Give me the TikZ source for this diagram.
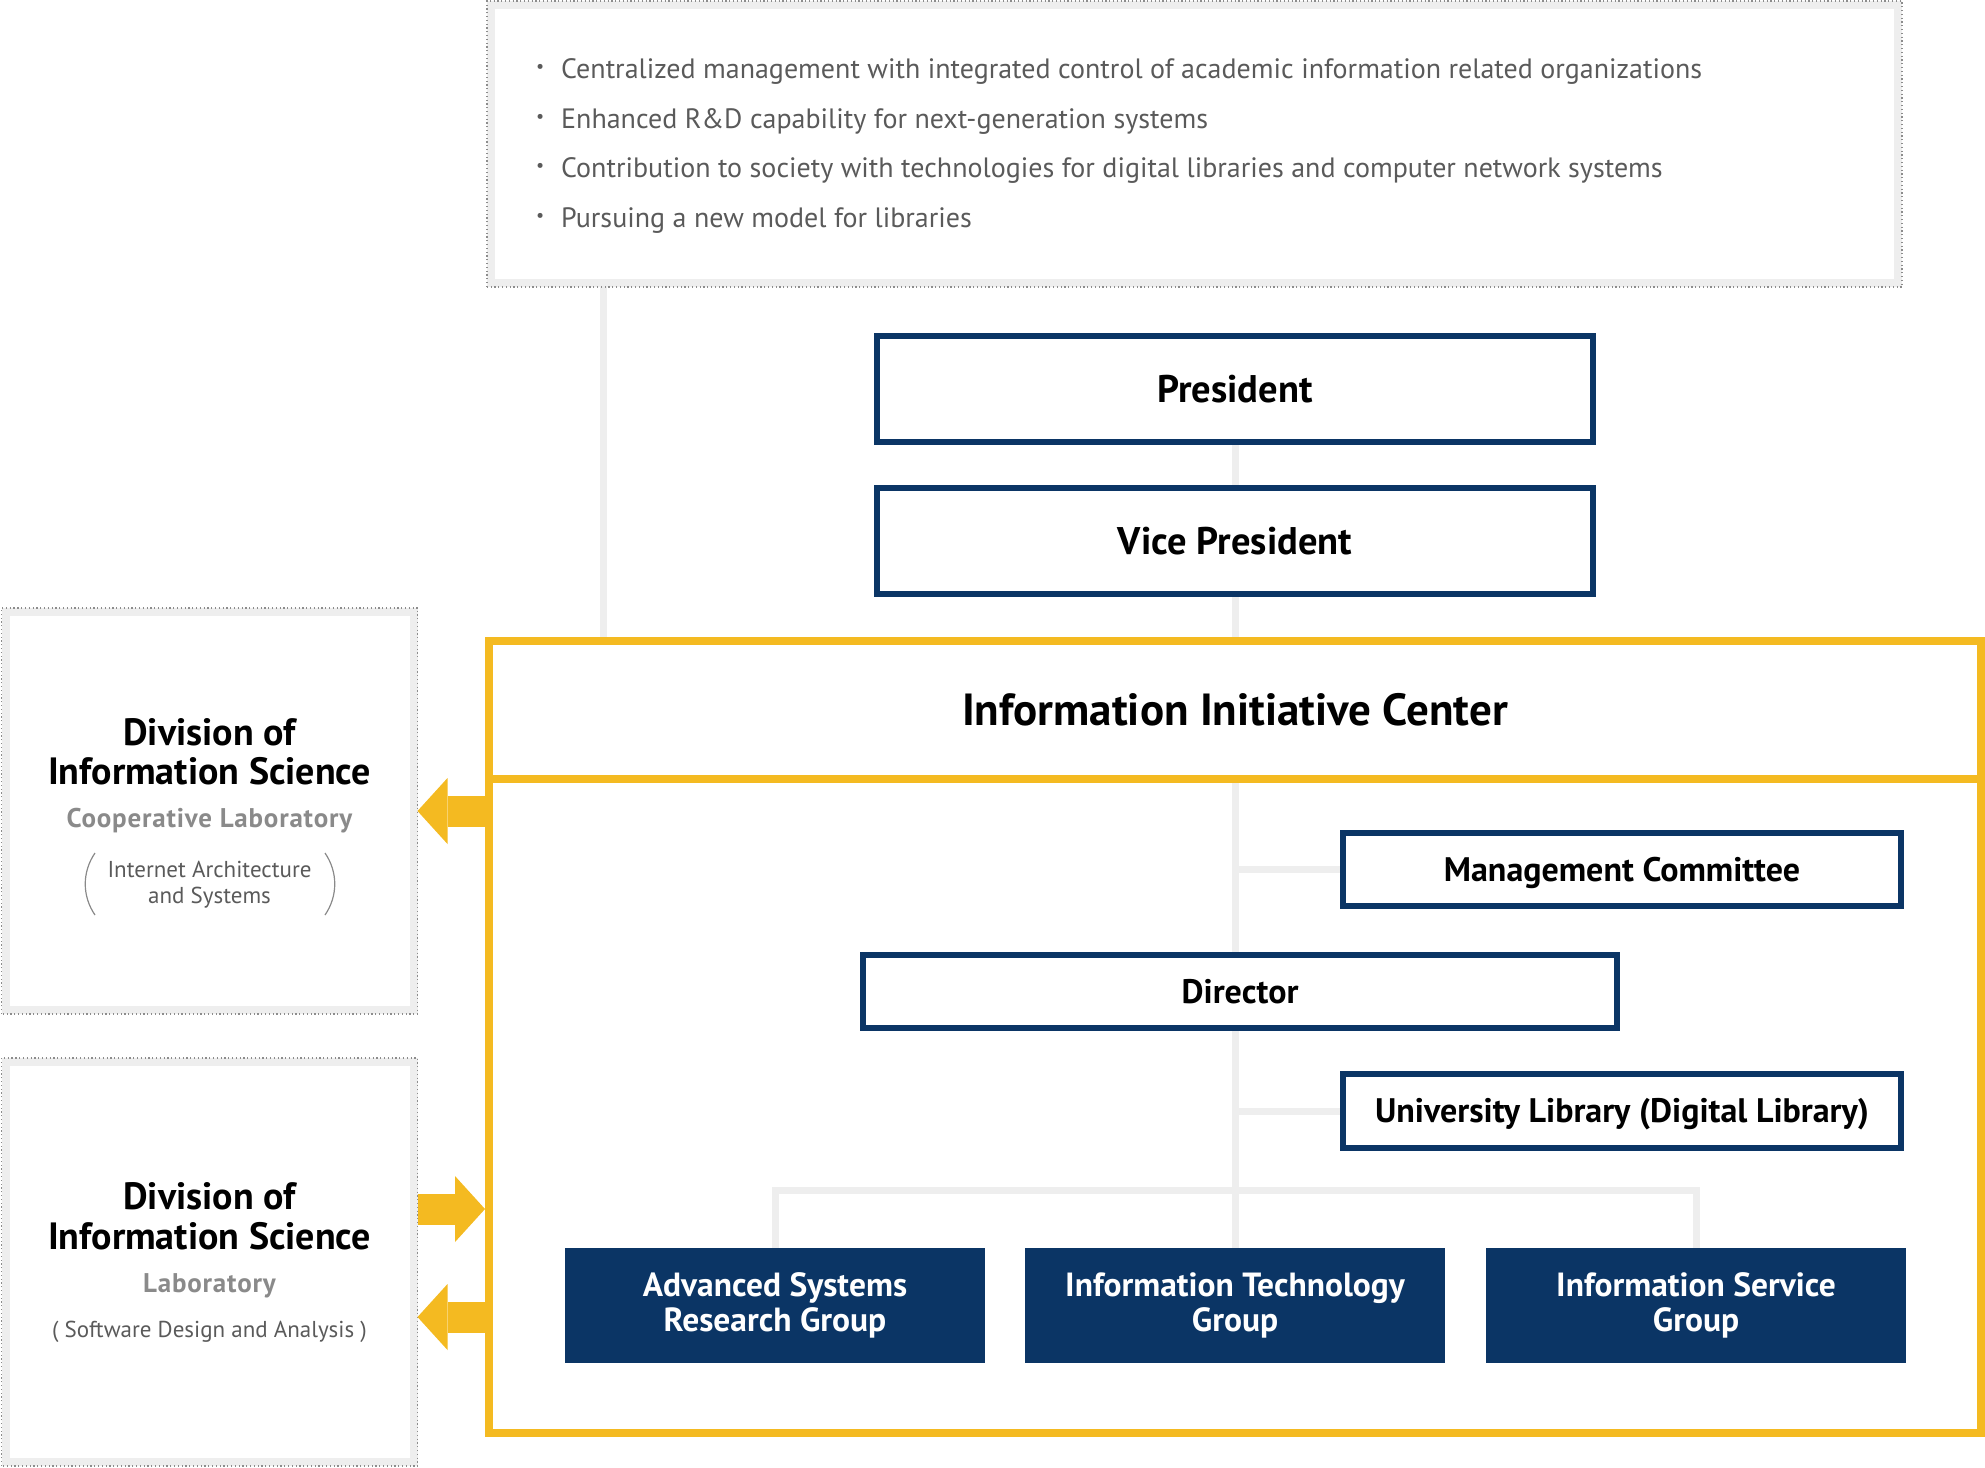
\documentclass[tikz,border=0pt]{standalone}
\usepackage{fontspec}
\setmainfont{PT Sans}
\newfontfamily\tracked[LetterSpace=3]{PT Sans}
\newcommand{\aimdot}{\makebox[25pt][l]{\raisebox{6pt}{\fontsize{18}{18}\selectfont•}}}
\usetikzlibrary{arrows.meta,calc,positioning,backgrounds}
\definecolor{navy}{HTML}{0B3565}
\definecolor{gold}{HTML}{F4BA21}
\definecolor{rule}{HTML}{EEEEEE}
\definecolor{ink}{HTML}{5A5A5A}
\definecolor{soft}{HTML}{8A8A8A}
\definecolor{dots}{HTML}{8C8C8C}
\tikzset{post/.style={
            draw=navy,
            fill=white,
            line width=6pt,
            inner sep=0pt,
            text height=23pt,
            text depth=0pt,
            font=\bfseries\fontsize{34}{36}\selectfont
        },
        chief/.style={
            post,
            minimum width=716pt,
            minimum height=106pt,
            text height=26pt,
            font=\bfseries\fontsize{38.5}{40}\selectfont
        },
        group/.style={
            fill=navy,
            text=white,
            inner sep=0pt,
            minimum width=420pt,
            minimum height=115pt,
            align=center,
            font=\bfseries\fontsize{33.5}{35}\selectfont
        },
        panel/.style={
            draw=rule,
            line width=8pt,
            inner sep=0pt
        },
        frame/.style={
            draw=gold,
            line width=8pt,
            inner sep=0pt
        },
        dotline/.style={
            draw=dots,
            line width=1.2pt,
            dash pattern=on 1.2pt off 2.6pt
        },
        link/.style={
            draw=rule,
            line width=7pt
        },
        fat/.style={
            draw=gold,
            line width=31pt,
            -{Triangle[length=30pt,width=66pt,line width=0pt]}
        },
        aim/.style={
            anchor=base west,
            inner sep=0pt,
            text=ink,
            font=\fontsize{28}{32}\selectfont
        },
        head/.style={
            anchor=base,
            inner sep=0pt,
            font=\bfseries\fontsize{38}{40}\selectfont
        },
        sub/.style={
            anchor=base,
            inner sep=0pt,
            text=soft,
            font=\tracked\bfseries\fontsize{27}{30}\selectfont
        },
        theme/.style={
            anchor=base,
            inner sep=0pt,
            text=ink,
            font=\fontsize{23}{26}\selectfont
        },
        paren/.style={
            draw=soft,
            line width=1.2pt
        }
    }
\begin{document}
\begin{tikzpicture}[x=1pt,y=-1pt]
        \useasboundingbox (0,0) rectangle (1985,1467);
        \node[panel,minimum width=1407pt,minimum height=278pt] at (1194.5,144) (aims) {};
        \draw[dotline] (aims.south west) rectangle (aims.north east);
        \node[aim] at (536,78) (aim1) {\aimdot Centralized management with integrated control of academic information related organizations};
        \node[aim] at ([yshift=-50pt]aim1.base west) (aim2) {\aimdot Enhanced R\&D capability for next-generation systems};
        \node[aim] at ([yshift=-49pt]aim2.base west) (aim3) {\aimdot Contribution to society with technologies for digital libraries and computer network systems};
        \node[aim] at ([yshift=-50pt]aim3.base west) (aim4) {\aimdot Pursuing a new model for libraries};

        \node[chief] at (1235,389) (president) {President};
        \node[chief] at (1235,541) (vice) {Vice President};

        \node[frame,minimum width=1492pt,minimum height=792pt] at (1235,1037) (iic) {};
        \coordinate (cut) at (0,779);
        \draw[gold,line width=8pt] (iic.west |- cut) -- (iic.east |- cut);
        \node[anchor=base,inner sep=0pt,font=\bfseries\fontsize{45}{48}\selectfont] at (1235,725) (iictitle) {Information Initiative Center};

        \node[post,minimum width=558pt,minimum height=73pt] at (1622,869.5) (mc) {Management Committee};
        \node[post,minimum width=754pt,minimum height=73pt] at (1240,991.5) (dir) {Director};
        \node[post,minimum width=558pt,minimum height=74pt] at (1622,1111) (lib) {University Library (Digital Library)};

        \node[group] at (775,1305.5) (asrg) {Advanced Systems\\Research Group};
        \node[group] at (1235,1305.5) (itg) {Information Technology\\Group};
        \node[group] at (1696,1305.5) (isg) {Information Service\\Group};

        \node[panel,minimum width=408pt,minimum height=398pt] at (209.5,811) (coop) {};
        \draw[dotline] (coop.south west) rectangle (coop.north east);
        \node[head] at (209.5,745) (cooptop) {Division of};
        \node[head] at ([yshift=-39pt]cooptop.base) (coopname) {Information Science};
        \node[sub] at ([yshift=-43pt]coopname.base) (coopkind) {Cooperative Laboratory};
        \node[theme] at ([yshift=-50pt]coopkind.base) (cooptheme) {Internet Architecture};
        \node[theme] at ([yshift=-26pt]cooptheme.base) (cooptheme2) {and Systems};
        \draw[paren] (95,853) .. controls (82,872) and (82,896) .. (95,915);
        \draw[paren] (325,853) .. controls (338,872) and (338,896) .. (325,915);

        \node[panel,minimum width=408pt,minimum height=400pt] at (209.5,1262) (lab) {};
        \draw[dotline] (lab.south west) rectangle (lab.north east);
        \node[head] at (209.5,1209) (labtop) {Division of};
        \node[head] at ([yshift=-40pt]labtop.base) (labname) {Information Science};
        \node[sub] at ([yshift=-43pt]labname.base) (labkind) {Laboratory};
        \node[theme] at ([yshift=-45pt]labkind.base) (labtheme) {( Software Design and Analysis )};

        \draw[fat] (coop.east -| iic.west) -- (coop.east);
        \draw[fat] ([yshift=53pt]lab.east) -- ([yshift=53pt]lab.east -| iic.west);
        \draw[fat] ([yshift=-55pt]lab.east -| iic.west) -- ([yshift=-55pt]lab.east);

        \begin{scope}[on background layer]
            \coordinate (aimsfoot) at ([xshift=116pt]aims.south west);
            \draw[link] (aimsfoot) -- (aimsfoot |- iic.north);
            \draw[link] (president.south) -- (vice.north);
            \draw[link] (vice.south) -- (iic.north);
            \draw[link] (iic.north |- cut) -- (itg.north);
            \draw[link] (mc.west -| itg.north) -- (mc.west);
            \draw[link] (lib.west -| itg.north) -- (lib.west);
            \draw[link] (asrg.north) -- ++(0,-57) -| (isg.north);
        \end{scope}
    \end{tikzpicture}
\end{document}
